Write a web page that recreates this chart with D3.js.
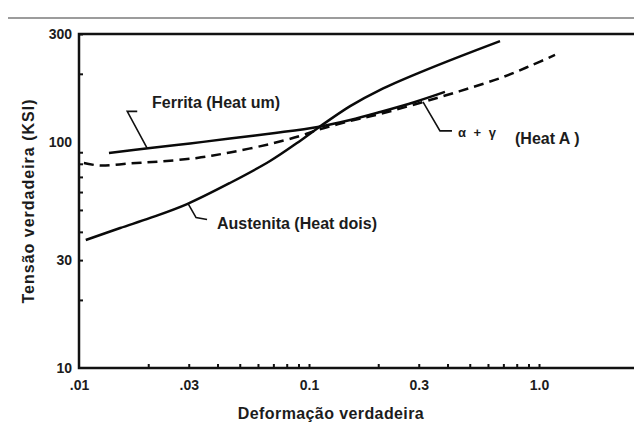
<!DOCTYPE html>
<html>
<head>
<meta charset="utf-8">
<script src="https://cdn.jsdelivr.net/npm/d3@7/dist/d3.min.js"></script>
<style>
  html, body { margin: 0; padding: 0; background: #fff; }
  svg { display: block; }
  text { font-family: "Liberation Sans", Arial, sans-serif; font-weight: bold; fill: #1c1c1c; }
</style>
</head>
<body>
<div id="chart"></div>
<script>
// True stress vs true strain, log-log (stress in KSI)
const austeniteStrain = [0.0107, 0.0151, 0.0204, 0.0295, 0.0453, 0.0677, 0.0914, 0.109, 0.151, 0.204, 0.304, 0.454, 0.677];
const austeniteStress = [36.8, 41.6, 46.1, 53.1, 65.8, 82.3, 101, 115, 144, 170, 203, 239, 279];

const ferriteStrain = [0.0135, 0.0204, 0.0304, 0.0453, 0.0712, 0.109, 0.151, 0.204, 0.289, 0.390];
const ferriteStress = [89.3, 94.0, 98.4, 103.5, 109.5, 116.4, 125.0, 135.6, 150.2, 166.3];

const duplexStrain = [0.0105, 0.0123, 0.0167, 0.0225, 0.0326, 0.0453, 0.0677, 0.0914, 0.109, 0.151, 0.204, 0.360, 0.501, 0.698, 0.914, 1.174];
const duplexStress = [80.7, 78.6, 80.3, 81.9, 84.9, 89.8, 97.9, 106.2, 112.9, 123.7, 132.9, 156.4, 173.1, 193.6, 216.7, 242.3];

const xMajorValues = [0.01, 0.03, 0.1, 0.3, 1.0];
const xMajorLabels = [".01", ".03", "0.1", "0.3", "1.0"];
const xMinorValues = [0.02, 0.03, 0.04, 0.05, 0.06, 0.07, 0.08, 0.09, 0.1, 0.2, 0.3, 0.4, 0.5, 0.6, 0.7, 0.8, 0.9, 1.0];

const yMajorValues = [10, 30, 100, 300];
const yMajorLabels = ["10", "30", "100", "300"];
const yMinorValues = [20, 30, 40, 50, 60, 70, 80, 90, 200, 300];

const seriesLabels = ["Ferrita (Heat um)", "Austenita (Heat dois)", "α + γ", "(Heat A )"];
const xTitle = "Deformação verdadeira";
const yTitle = "Tensão verdadeira (KSI)";

const W = 634, H = 423;
const plotLeft = 79, plotTop = 34, plotBottom = 368;

const svg = d3.select("#chart").append("svg").attr("width", W).attr("height", H);

const x = d3.scaleLog().domain([0.01, 1]).range([plotLeft, 539]);
const y = d3.scaleLog().domain([10, 300]).range([plotBottom, plotTop]);

// thin grey rule above the plot
svg.append("line").attr("x1", 8).attr("x2", W).attr("y1", 18).attr("y2", 18)
  .attr("stroke", "#9c9c9c").attr("stroke-width", 2);

// minor ticks pointing into the plot
svg.append("g").attr("transform", `translate(0,${plotBottom})`)
  .call(d3.axisBottom(x).tickValues(xMinorValues).tickSize(-4).tickFormat(""))
  .call(g => g.select(".domain").remove())
  .call(g => g.selectAll(".tick line").attr("stroke", "#111").attr("stroke-width", 2));

svg.append("g").attr("transform", `translate(${plotLeft},0)`)
  .call(d3.axisLeft(y).tickValues(yMinorValues).tickSize(-4).tickFormat(""))
  .call(g => g.select(".domain").remove())
  .call(g => g.selectAll(".tick line").attr("stroke", "#111").attr("stroke-width", 2));

// tick labels
const labelStyle = g => g.selectAll("text").style("font-size", "14px")
  .style("font-family", '"Liberation Sans", Arial, sans-serif').style("font-weight", "bold").attr("fill", "#1c1c1c");

svg.append("g").attr("transform", `translate(0,${plotBottom})`)
  .call(d3.axisBottom(x).tickValues(xMajorValues).tickSize(0).tickPadding(12)
    .tickFormat((d, i) => xMajorLabels[i]))
  .call(g => g.select(".domain").remove())
  .call(labelStyle);

svg.append("g").attr("transform", `translate(${plotLeft},0)`)
  .call(d3.axisLeft(y).tickValues(yMajorValues).tickSize(0).tickPadding(7)
    .tickFormat((d, i) => yMajorLabels[i]))
  .call(g => g.select(".domain").remove())
  .call(labelStyle);

// frame: left axis, bottom axis and top border run to the right edge
svg.append("path").attr("d", `M${W},${plotTop}H${plotLeft}V${plotBottom}H${W}`)
  .attr("stroke", "#111").attr("stroke-width", 2.5).attr("fill", "none");

// curves
const line = d3.line().x(d => x(d[0])).y(d => y(d[1])).curve(d3.curveCatmullRom.alpha(0.5));
const zipPts = (a, b) => a.map((v, i) => [v, b[i]]);
const curves = svg.append("g").attr("fill", "none").attr("stroke", "#0a0a0a").attr("stroke-width", 2.5);
curves.append("path").attr("d", line(zipPts(austeniteStrain, austeniteStress)));
curves.append("path").attr("d", line(zipPts(ferriteStrain, ferriteStress)));
curves.append("path").attr("d", line(zipPts(duplexStrain, duplexStress))).attr("stroke-dasharray", "10,6");

// stress on a curve at a given strain (log-log interpolation)
function stressAt(xs, ys, s) {
  const lx = xs.map(Math.log10), ly = ys.map(Math.log10), t = Math.log10(s);
  let i = d3.bisectRight(lx, t) - 1;
  i = Math.max(0, Math.min(lx.length - 2, i));
  const f = (t - lx[i]) / (lx[i + 1] - lx[i]);
  return Math.pow(10, ly[i] + f * (ly[i + 1] - ly[i]));
}

// leader lines from each curve to its label
function leader(xs, ys, s, offsets) {
  const px = x(s), py = y(stressAt(xs, ys, s));
  const pts = [[px, py]].concat(offsets.map(o => [px + o[0], py + o[1]]));
  svg.append("path").attr("d", d3.line()(pts))
    .attr("fill", "none").attr("stroke", "#111").attr("stroke-width", 1.6);
}
leader(ferriteStrain, ferriteStress, 0.0198, [[-20, -37], [-10, -37]]);
leader(austeniteStrain, austeniteStress, 0.0298, [[8, 14], [19, 16]]);
leader(duplexStrain, duplexStress, 0.313, [[17, 29], [29, 29]]);

const lab = svg.append("g");
lab.append("text").attr("x", 152).attr("y", 108).style("font-size", "16px").text(seriesLabels[0]);
lab.append("text").attr("x", 217).attr("y", 229).style("font-size", "16px").text(seriesLabels[1]);
lab.append("text").attr("x", 458).attr("y", 137).style("font-size", "13px").attr("word-spacing", "4px").text(seriesLabels[2]);
lab.append("text").attr("x", 515).attr("y", 144).style("font-size", "16px").text(seriesLabels[3]);

// axis titles
svg.append("text").attr("x", 331).attr("y", 419).attr("text-anchor", "middle")
  .style("font-size", "16px").attr("letter-spacing", "0.4px").text(xTitle);
svg.append("text").attr("transform", `translate(34,201) rotate(-90)`).attr("text-anchor", "middle")
  .style("font-size", "16px").attr("letter-spacing", "1px").text(yTitle);
</script>
</body>
</html>
